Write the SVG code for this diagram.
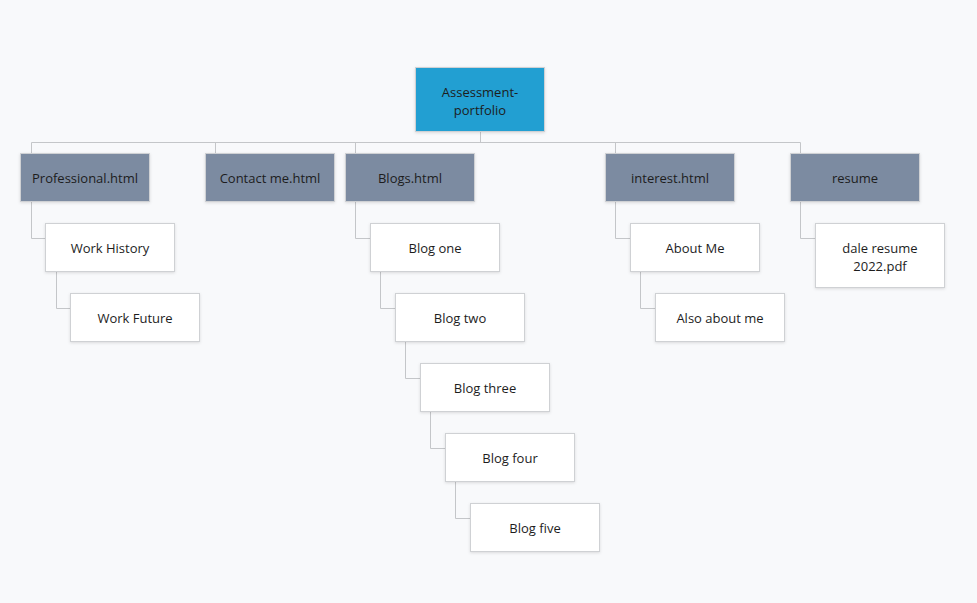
<svg xmlns="http://www.w3.org/2000/svg" width="977" height="603" viewBox="0 0 977 603">
<defs>
<filter id="sh" x="-10%" y="-10%" width="130%" height="140%">
<feDropShadow dx="0" dy="1" stdDeviation="1.5" flood-color="#000" flood-opacity="0.12"/>
</filter>
<style>
.bx{stroke:#cfd1d4;stroke-width:1;filter:url(#sh)}
.root{fill:#229fd2}
.l1{fill:#7b8ba1}
.l2{fill:#ffffff}
text{font-family:"Open Sans","Liberation Sans",sans-serif;font-size:13px;fill:#1d1d1d;text-anchor:middle}
.cn{fill:none;stroke:#c4c6c9;stroke-width:1}
</style>
</defs>
<rect width="977" height="603" fill="#f8f9fb"/>
<g id="connectors">
<path class="cn" d="M480.5 132V142.5M31.5 153V142.5H800.5V153M215.5 142.5V153M355.5 142.5V153M615.5 142.5V153"/>
<path class="cn" d="M31.5 202V238.5H45M56.5 272V308.5H70"/>
<path class="cn" d="M355.5 202V238.5H370M380.5 272V308.5H395M405.5 342V378.5H420M430.5 412V448.5H445M455.5 482V518.5H470"/>
<path class="cn" d="M615.5 202V238.5H630M640.5 272V308.5H655"/>
<path class="cn" d="M800.5 202V238.5H815"/>
</g>
<g id="root"><rect class="bx root" x="415.5" y="67.5" width="129" height="64"/><text x="480" y="97">Assessment-</text><text x="480" y="115">portfolio</text></g>
<g id="professional"><rect class="bx l1" x="20.5" y="153.5" width="129" height="48"/><text x="85" y="183">Professional.html</text></g>
<g id="contact"><rect class="bx l1" x="205.5" y="153.5" width="129" height="48"/><text x="270" y="183">Contact me.html</text></g>
<g id="blogs"><rect class="bx l1" x="345.5" y="153.5" width="129" height="48"/><text x="410" y="183">Blogs.html</text></g>
<g id="interest"><rect class="bx l1" x="605.5" y="153.5" width="129" height="48"/><text x="670" y="183">interest.html</text></g>
<g id="resume"><rect class="bx l1" x="790.5" y="153.5" width="129" height="48"/><text x="855" y="183">resume</text></g>
<g id="work-history"><rect class="bx l2" x="45.5" y="223.5" width="129" height="48"/><text x="110" y="253">Work History</text></g>
<g id="work-future"><rect class="bx l2" x="70.5" y="293.5" width="129" height="48"/><text x="135" y="323">Work Future</text></g>
<g id="blog-one"><rect class="bx l2" x="370.5" y="223.5" width="129" height="48"/><text x="435" y="253">Blog one</text></g>
<g id="blog-two"><rect class="bx l2" x="395.5" y="293.5" width="129" height="48"/><text x="460" y="323">Blog two</text></g>
<g id="blog-three"><rect class="bx l2" x="420.5" y="363.5" width="129" height="48"/><text x="485" y="393">Blog three</text></g>
<g id="blog-four"><rect class="bx l2" x="445.5" y="433.5" width="129" height="48"/><text x="510" y="463">Blog four</text></g>
<g id="blog-five"><rect class="bx l2" x="470.5" y="503.5" width="129" height="48"/><text x="535" y="533">Blog five</text></g>
<g id="about-me"><rect class="bx l2" x="630.5" y="223.5" width="129" height="48"/><text x="695" y="253">About Me</text></g>
<g id="also-about-me"><rect class="bx l2" x="655.5" y="293.5" width="129" height="48"/><text x="720" y="323">Also about me</text></g>
<g id="dale-resume"><rect class="bx l2" x="815.5" y="223.5" width="129" height="64"/><text x="880" y="253">dale resume</text><text x="880" y="271">2022.pdf</text></g>
</svg>
